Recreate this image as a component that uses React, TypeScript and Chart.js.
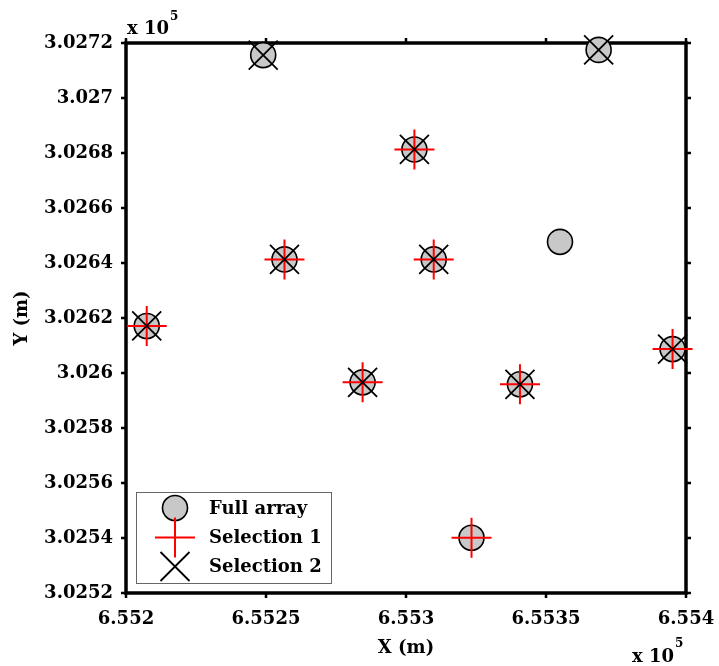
import React, { useEffect, useRef } from 'react';
import { Chart, registerables } from 'chart.js';

Chart.register(...registerables);

// ---- data (metres) ----
const fullX = [655249.0, 655368.8, 655303.0, 655355.0, 655256.6, 655309.9, 655207.4, 655395.2, 655284.5, 655340.7, 655323.4];
const fullY = [302715.6, 302717.5, 302681.3, 302647.7, 302641.3, 302641.3, 302617.1, 302608.7, 302596.6, 302595.9, 302540.1];

const sel1X = [655303.0, 655256.6, 655309.9, 655207.4, 655395.2, 655284.5, 655340.7, 655323.4];
const sel1Y = [302681.3, 302641.3, 302641.3, 302617.1, 302608.7, 302596.6, 302595.9, 302540.1];

const sel2X = [655249.0, 655368.8, 655303.0, 655256.6, 655309.9, 655207.4, 655395.2, 655284.5, 655340.7];
const sel2Y = [302715.6, 302717.5, 302681.3, 302641.3, 302641.3, 302617.1, 302608.7, 302596.6, 302595.9];

const seriesNames = ['Full array', 'Selection 1', 'Selection 2'];

const xTicks = [655200, 655250, 655300, 655350, 655400];
const xTickLabels = ['6.552', '6.5525', '6.553', '6.5535', '6.554'];
const yTicks = [302520, 302540, 302560, 302580, 302600, 302620, 302640, 302660, 302680, 302700, 302720];
const yTickLabels = ['3.0252', '3.0254', '3.0256', '3.0258', '3.026', '3.0262', '3.0264', '3.0266', '3.0268', '3.027', '3.0272'];
const xTitle = 'X (m)';
const yTitle = 'Y (m)';
const exponentBase = 'x 10';
const exponent = '5';

const FONT = "'DejaVu Serif', serif";
const GRAY = '#c8c8c8';

function toPoints(xs: number[], ys: number[]) {
  return xs.map((x, i) => ({ x, y: ys[i] }));
}

function drawCircle(ctx: CanvasRenderingContext2D, x: number, y: number) {
  ctx.beginPath();
  ctx.arc(x, y, 12.5, 0, Math.PI * 2);
  ctx.fillStyle = GRAY;
  ctx.fill();
  ctx.lineWidth = 1.6;
  ctx.strokeStyle = '#000';
  ctx.stroke();
}
function drawPlus(ctx: CanvasRenderingContext2D, x: number, y: number) {
  ctx.beginPath();
  ctx.moveTo(x - 20, y);
  ctx.lineTo(x + 20, y);
  ctx.moveTo(x, y - 20);
  ctx.lineTo(x, y + 20);
  ctx.lineWidth = 2;
  ctx.strokeStyle = '#ff0000';
  ctx.stroke();
}
function drawX(ctx: CanvasRenderingContext2D, x: number, y: number) {
  const d = 14.5;
  ctx.beginPath();
  ctx.moveTo(x - d, y - d);
  ctx.lineTo(x + d, y + d);
  ctx.moveTo(x - d, y + d);
  ctx.lineTo(x + d, y - d);
  ctx.lineWidth = 1.8;
  ctx.strokeStyle = '#000';
  ctx.stroke();
}

const framePlugin = {
  id: 'framePlugin',
  beforeDatasetsDraw(chart: any) {
    const { ctx, chartArea: a, scales } = chart;
    ctx.save();
    ctx.strokeStyle = '#000';
    ctx.lineWidth = 2.5;
    ctx.lineCap = 'butt';
    const tl = 5;
    xTicks.forEach((v) => {
      const px = scales.x.getPixelForValue(v);
      ctx.beginPath();
      ctx.moveTo(px, a.bottom);
      ctx.lineTo(px, a.bottom + tl);
      ctx.moveTo(px, a.top);
      ctx.lineTo(px, a.top - tl);
      ctx.stroke();
    });
    yTicks.forEach((v) => {
      const py = scales.y.getPixelForValue(v);
      ctx.beginPath();
      ctx.moveTo(a.left, py);
      ctx.lineTo(a.left - tl, py);
      ctx.moveTo(a.right, py);
      ctx.lineTo(a.right + tl, py);
      ctx.stroke();
    });
    ctx.lineWidth = 3.5;
    ctx.strokeRect(a.left, a.top, a.right - a.left, a.bottom - a.top);
    ctx.restore();
  },
  afterDraw(chart: any) {
    const { ctx, chartArea: a } = chart;
    ctx.save();
    // exponent labels
    ctx.fillStyle = '#000';
    ctx.textBaseline = 'alphabetic';
    ctx.textAlign = 'left';
    ctx.font = `bold 18px ${FONT}`;
    const w1 = ctx.measureText(exponentBase).width;
    ctx.fillText(exponentBase, a.left + 1, 34);
    ctx.font = `bold 12px ${FONT}`;
    ctx.fillText(exponent, a.left + 2 + w1, 20);
    ctx.font = `bold 18px ${FONT}`;
    const w2 = ctx.measureText(exponentBase).width;
    const bx = a.right - 54;
    ctx.fillText(exponentBase, bx, 662);
    ctx.font = `bold 12px ${FONT}`;
    ctx.fillText(exponent, bx + w2 + 1, 647);

    // legend
    const lx = 136, ly = 492, lw = 195, lh = 91;
    ctx.fillStyle = '#fff';
    ctx.fillRect(lx, ly, lw, lh);
    ctx.lineWidth = 1;
    ctx.strokeStyle = '#666';
    ctx.strokeRect(lx + 0.5, ly + 0.5, lw, lh);
    const mx = 175;
    const rows = [508, 537.5, 566.5];
    drawCircle(ctx, mx, rows[0]);
    drawPlus(ctx, mx, rows[1]);
    drawX(ctx, mx, rows[2]);
    ctx.fillStyle = '#000';
    ctx.font = `bold 18px ${FONT}`;
    ctx.textBaseline = 'middle';
    seriesNames.forEach((n, i) => ctx.fillText(n, 209, rows[i] + 1));
    ctx.restore();
  },
};

export default function App() {
  const ref = useRef<HTMLCanvasElement | null>(null);
  useEffect(() => {
    if (!ref.current) return;
    const chart = new Chart(ref.current, {
      type: 'scatter',
      data: {
        datasets: [
          {
            label: seriesNames[0],
            data: toPoints(fullX, fullY),
            pointStyle: 'circle',
            pointRadius: 12.5,
            pointHoverRadius: 12.5,
            backgroundColor: GRAY,
            borderColor: '#000',
            borderWidth: 1.6,
            order: 3,
            clip: false as any,
          },
          {
            label: seriesNames[1],
            data: toPoints(sel1X, sel1Y),
            pointStyle: 'cross',
            pointRadius: 20,
            pointHoverRadius: 20,
            borderColor: '#ff0000',
            backgroundColor: '#ff0000',
            borderWidth: 2,
            order: 2,
            clip: false as any,
          },
          {
            label: seriesNames[2],
            data: toPoints(sel2X, sel2Y),
            pointStyle: 'crossRot',
            pointRadius: 20.5,
            pointHoverRadius: 20.5,
            borderColor: '#000',
            backgroundColor: '#000',
            borderWidth: 1.8,
            order: 1,
            clip: false as any,
          },
        ],
      },
      options: {
        responsive: false,
        animation: false,
        events: [],
        layout: { padding: { left: 0, top: 43, right: 33, bottom: 0 } },
        plugins: { legend: { display: false }, tooltip: { enabled: false } },
        scales: {
          x: {
            type: 'linear',
            min: xTicks[0],
            max: xTicks[xTicks.length - 1],
            afterBuildTicks: (s: any) => {
              s.ticks = xTicks.map((v) => ({ value: v }));
            },
            afterFit: (s: any) => {
              s.height = 73;
              s.paddingLeft = 0;
              s.paddingRight = 0;
            },
            grid: { display: false, drawTicks: true, tickLength: 16 },
            border: { display: false },
            ticks: {
              autoSkip: false,
              maxRotation: 0,
              padding: 0,
              color: '#000',
              font: { family: FONT, size: 18, weight: 'bold' },
              callback: (_v: any, i: number) => xTickLabels[i],
            },
            title: {
              display: true,
              text: xTitle,
              color: '#000',
              font: { family: FONT, size: 18, weight: 'bold' },
              padding: { top: 0, bottom: 7 },
            },
          },
          y: {
            type: 'linear',
            min: yTicks[0],
            max: yTicks[yTicks.length - 1],
            afterBuildTicks: (s: any) => {
              s.ticks = yTicks.map((v) => ({ value: v }));
            },
            afterFit: (s: any) => {
              s.width = 126;
              s.paddingTop = 0;
              s.paddingBottom = 0;
            },
            grid: { display: false, drawTicks: true, tickLength: 5 },
            border: { display: false },
            ticks: {
              autoSkip: false,
              padding: 8,
              color: '#000',
              font: { family: FONT, size: 18, weight: 'bold' },
              callback: (_v: any, i: number) => yTickLabels[i],
            },
            title: {
              display: true,
              text: yTitle,
              color: '#000',
              font: { family: FONT, size: 18, weight: 'bold' },
              padding: { top: 12, bottom: 0 },
            },
          },
        },
      } as any,
      plugins: [framePlugin],
    });
    return () => chart.destroy();
  }, []);
  return (
    <div style={{ position: 'absolute', left: 0, top: 0, width: 719, height: 666, background: '#fff' }}>
      <canvas ref={ref} width={719} height={666} style={{ display: 'block' }} />
    </div>
  );
}
